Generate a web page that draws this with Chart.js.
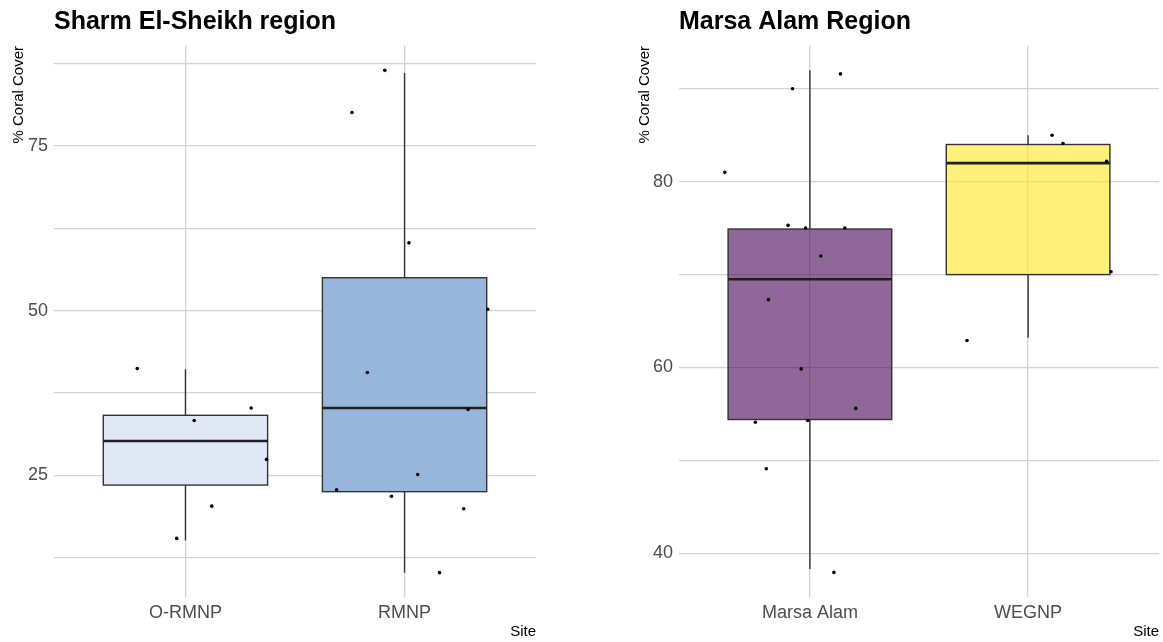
<!DOCTYPE html>
<html>
<head>
<meta charset="utf-8">
<script src="https://cdn.jsdelivr.net/npm/chart.js@4.4.1/dist/chart.umd.min.js"></script>
<style>
  body { margin: 0; background: #fff; }
  .panel { position: absolute; top: 0; height: 642px; }
  #sharmWrap { left: 0; width: 560px; }
  #marsaWrap { left: 600px; width: 563px; }
</style>
</head>
<body>
<div class="panel" id="sharmWrap"><canvas id="sharmChart"></canvas></div>
<div class="panel" id="marsaWrap"><canvas id="marsaChart"></canvas></div>
<script>
// Sharm El-Sheikh panel
const sharmSites = ['O-RMNP', 'RMNP'];
const sharmLow = [15.1, 10.2];
const sharmQ1 = [23.5, 22.5];
const sharmMedian = [30.2, 35.2];
const sharmQ3 = [34.1, 55.0];
const sharmHigh = [41.1, 86.1];
const sharmGrid = [12.5, 25, 37.5, 50, 62.5, 75, 87.5];
const sharmLabels = [25, 50, 75];

const oRmnpCover = [41.2, 33.3, 35.2, 27.4, 20.3, 15.4];
const oRmnpJitter = [-0.22, 0.04, 0.30, 0.37, 0.12, -0.04];
const rmnpCover = [86.5, 80.1, 60.3, 50.2, 40.6, 35.0, 25.1, 22.8, 21.8, 19.9, 10.2];
const rmnpJitter = [-0.09, -0.24, 0.02, 0.38, -0.17, 0.29, 0.06, -0.31, -0.06, 0.27, 0.16];

// Marsa Alam panel
const marsaSites = ['Marsa Alam', 'WEGNP'];
const marsaLow = [38.3, 63.2];
const marsaQ1 = [54.4, 70.0];
const marsaMedian = [69.5, 82.0];
const marsaQ3 = [74.9, 84.0];
const marsaHigh = [92.0, 85.0];
const marsaGrid = [40, 50, 60, 70, 80, 90];
const marsaLabels = [40, 60, 80];

const marsaAlamCover = [91.6, 90.0, 81.0, 75.3, 75.0, 75.0, 72.0, 67.3, 59.85, 55.6, 54.1, 54.3, 49.1, 37.95];
const marsaAlamJitter = [0.14, -0.08, -0.39, -0.10, -0.02, 0.16, 0.05, -0.19, -0.04, 0.21, -0.25, -0.01, -0.20, 0.11];
const wegnpCover = [85.0, 84.1, 82.2, 70.3, 62.9];
const wegnpJitter = [0.11, 0.16, 0.36, 0.38, -0.28];

const FONT = "'Liberation Sans', Arial, sans-serif";
const GRID_COLOR = '#d2d2d2';
const BOX_WIDTH = 0.75;

function toPoints(cover, jitter, site) {
  return cover.map((v, i) => ({ x: site + jitter[i], y: v }));
}

// draws whiskers, boxes and medians under the jittered points
function boxPlugin(stats) {
  return {
    id: 'boxPlot',
    beforeDatasetsDraw(chart) {
      const { ctx, scales: { x, y } } = chart;
      stats.q1.forEach((q1, i) => {
        const site = i + 1;
        const xl = x.getPixelForValue(site - BOX_WIDTH / 2);
        const xr = x.getPixelForValue(site + BOX_WIDTH / 2);
        const xc = x.getPixelForValue(site);
        const yTop = y.getPixelForValue(stats.q3[i]);
        const yBot = y.getPixelForValue(q1);
        ctx.save();
        ctx.strokeStyle = '#333333';
        ctx.lineWidth = 1.4;
        ctx.beginPath();
        ctx.moveTo(xc, y.getPixelForValue(stats.high[i]));
        ctx.lineTo(xc, yTop);
        ctx.moveTo(xc, yBot);
        ctx.lineTo(xc, y.getPixelForValue(stats.low[i]));
        ctx.stroke();
        ctx.fillStyle = stats.fills[i];
        ctx.fillRect(xl, yTop, xr - xl, yBot - yTop);
        ctx.strokeRect(xl, yTop, xr - xl, yBot - yTop);
        const ym = y.getPixelForValue(stats.median[i]);
        ctx.lineWidth = 2.6;
        ctx.strokeStyle = '#1f1f1f';
        ctx.beginPath();
        ctx.moveTo(xl, ym);
        ctx.lineTo(xr, ym);
        ctx.stroke();
        ctx.restore();
      });
    }
  };
}

// panel title aligned with the left edge of the plot area
function titlePlugin(text) {
  return {
    id: 'panelTitle',
    afterDraw(chart) {
      const { ctx, chartArea } = chart;
      ctx.save();
      ctx.font = 'bold 25px ' + FONT;
      ctx.fillStyle = '#000';
      ctx.textBaseline = 'alphabetic';
      ctx.textAlign = 'left';
      ctx.fillText(text, chartArea.left, 29);
      ctx.restore();
    }
  };
}

function makeChart(id, opts) {
  return new Chart(document.getElementById(id), {
    type: 'scatter',
    data: {
      datasets: opts.groups.map(g => ({
        data: toPoints(g.cover, g.jitter, g.site),
        backgroundColor: '#000',
        borderWidth: 0,
        pointRadius: 1.8
      }))
    },
    options: {
      responsive: true,
      maintainAspectRatio: false,
      animation: false,
      layout: { padding: { top: 46, right: opts.padRight, left: 0, bottom: 0 } },
      plugins: { legend: { display: false }, tooltip: { enabled: false } },
      scales: {
        x: {
          type: 'linear',
          min: 0.4,
          max: 2.6,
          afterBuildTicks: s => { s.ticks = [1, 2].map(v => ({ value: v })); },
          afterFit: s => { s.height = 45; },
          border: { display: false },
          grid: { color: GRID_COLOR, lineWidth: 1.3, drawTicks: false },
          ticks: {
            autoSkip: false,
            maxRotation: 0,
            padding: 5,
            color: '#4d4d4d',
            font: { family: FONT, size: 18 },
            callback: v => opts.sites[v - 1]
          },
          title: {
            display: true,
            text: 'Site',
            align: 'end',
            color: '#000',
            font: { family: FONT, size: 15 },
            padding: { top: 0, bottom: 1 }
          }
        },
        y: {
          min: opts.yMin,
          max: opts.yMax,
          afterBuildTicks: s => { s.ticks = opts.grid.map(v => ({ value: v })); },
          afterFit: s => { s.width = opts.axisWidth; },
          border: { display: false },
          grid: { color: GRID_COLOR, lineWidth: 1.3, drawTicks: false },
          ticks: {
            autoSkip: false,
            padding: 6,
            color: '#4d4d4d',
            font: { family: FONT, size: 18 },
            callback: v => opts.labels.includes(v) ? String(v) : ''
          },
          title: {
            display: true,
            text: '% Coral Cover',
            align: 'end',
            color: '#000',
            font: { family: FONT, size: 15 },
            padding: { top: opts.titlePad, bottom: 0 }
          }
        }
      }
    },
    plugins: [boxPlugin(opts.stats), titlePlugin(opts.title)]
  });
}

makeChart('sharmChart', {
  title: 'Sharm El-Sheikh region',
  sites: sharmSites,
  grid: sharmGrid,
  labels: sharmLabels,
  yMin: 6.5,
  yMax: 90.2,
  axisWidth: 54,
  titlePad: 10,
  padRight: 24,
  stats: { low: sharmLow, q1: sharmQ1, median: sharmMedian, q3: sharmQ3, high: sharmHigh,
           fills: ['#e1e8f5', '#98b6dc'] },
  groups: [
    { cover: oRmnpCover, jitter: oRmnpJitter, site: 1 },
    { cover: rmnpCover, jitter: rmnpJitter, site: 2 }
  ]
});

makeChart('marsaChart', {
  title: 'Marsa Alam Region',
  sites: marsaSites,
  grid: marsaGrid,
  labels: marsaLabels,
  yMin: 35.3,
  yMax: 94.6,
  axisWidth: 79,
  titlePad: 36,
  padRight: 2,
  stats: { low: marsaLow, q1: marsaQ1, median: marsaMedian, q3: marsaQ3, high: marsaHigh,
           fills: ['rgba(68, 1, 84, 0.6)', 'rgba(253, 231, 37, 0.62)'] },
  groups: [
    { cover: marsaAlamCover, jitter: marsaAlamJitter, site: 1 },
    { cover: wegnpCover, jitter: wegnpJitter, site: 2 }
  ]
});
</script>
</body>
</html>
